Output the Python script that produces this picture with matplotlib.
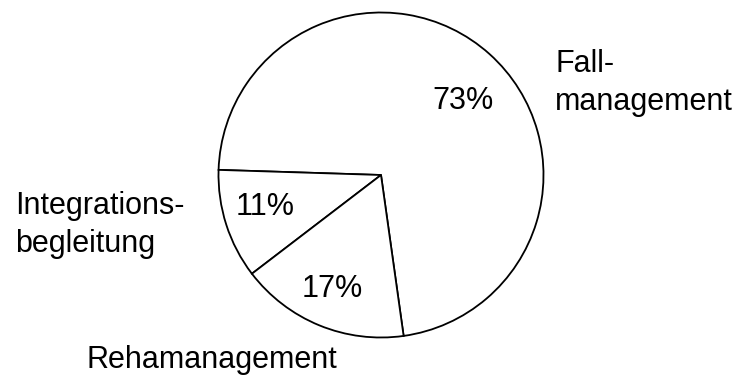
import matplotlib
matplotlib.use("Agg")
import matplotlib.pyplot as plt

plt.rcParams['font.family'] = ['Liberation Sans', 'DejaVu Sans']

# data
labels = ['Fall-\nmanagement', 'Integrations-\nbegleitung', 'Rehamanagement']
values = [73, 11, 17]
pct_labels = ['73%', '11%', '17%']

# text placement (data units, pie radius = 1); y = baseline of last line
label_pos = [(1.071, 0.40, 'left'), (-2.252, -0.472, 'left'), (-1.04, -1.188, 'center')]
pct_pos = [(0.507, 0.405), (-0.711, -0.246), (-0.297, -0.753)]

fig = plt.figure(figsize=(7.44, 3.75), dpi=100)
ax = fig.add_axes([0, 0, 1, 1])

ax.pie(values, startangle=278, counterclock=True, radius=1,
       wedgeprops=dict(facecolor='white', edgecolor='black', linewidth=1.3))

for txt, (x, y, ha) in zip(labels, label_pos):
    ax.text(x, y, txt, ha=ha, va='baseline', fontsize=22, linespacing=1.33)
for txt, (x, y) in zip(pct_labels, pct_pos):
    ax.text(x, y, txt, ha='center', va='baseline', fontsize=22)

R = 162.5
cx, cy = 381, 175
ax.set_xlim(-cx / R, (744 - cx) / R)
ax.set_ylim((cy - 375) / R, cy / R)
ax.set_aspect('equal')
ax.axis('off')

fig.savefig('out.png', dpi=100)
